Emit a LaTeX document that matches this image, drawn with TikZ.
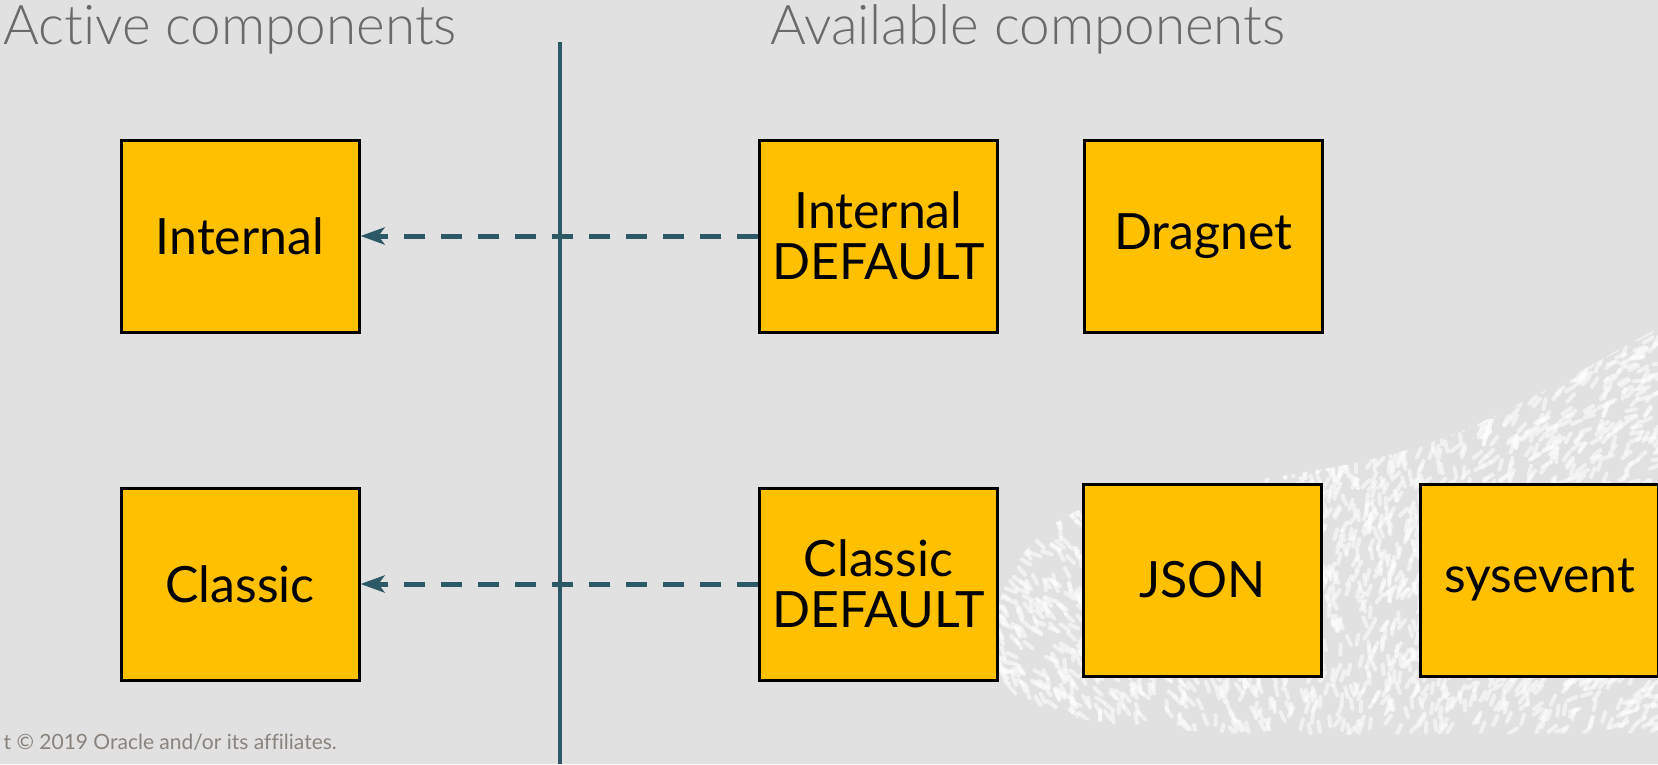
\documentclass[tikz,border=0pt]{standalone}
\usepackage{fontspec}
\setmainfont{Lato}[Ligatures=NoCommon]
\newfontfamily\lightfont{Lato Light}[Ligatures=NoCommon]
\usetikzlibrary{positioning,arrows.meta}

\definecolor{oryellow}{HTML}{FFC000}
\definecolor{bggray}{HTML}{E0E1E0}
\definecolor{linkteal}{HTML}{2D5967}
\definecolor{titlegray}{HTML}{6A6A6A}
\definecolor{footgray}{HTML}{8A837D}

\tikzset{
  compbox/.style={draw=black,line width=3pt,fill=oryellow,minimum width=238pt,
    minimum height=192pt,align=center,inner sep=0pt,
    font=\fontsize{50}{51}\selectfont},
  link/.style={linkteal,line width=5pt,dash pattern=on 21pt off 16pt,
    -{Stealth[length=24pt,width=17pt,inset=6pt]}},
  divider/.style={linkteal,line width=3.5pt},
  heading/.style={anchor=base west,inner sep=0pt,text=titlegray,
    font=\lightfont\fontsize{54.8}{60}\selectfont},
  speck/.style={white,opacity=.55,line width=4pt,line cap=round}
}

\begin{document}
\begin{tikzpicture}[x=1pt,y=-1pt]
\useasboundingbox (0,0) rectangle (1658,764);
\fill[bggray] (0,0) rectangle (1658,764);

% background texture
\begin{scope}
\clip (995,630) .. controls (1000,560) and (1050,510) .. (1120,497)
  .. controls (1250,480) and (1380,470) .. (1480,423)
  .. controls (1560,385) and (1620,348) .. (1658,328) -- (1658,733)
  -- (1300,735) .. controls (1150,732) and (1050,722) .. (1015,695)
  .. controls (998,680) and (993,660) .. (995,630) -- cycle;
\pgfmathsetseed{11}
\foreach \i in {1,...,2900}{
  \pgfmathsetmacro\px{990+670*rnd}
  \pgfmathsetmacro\py{325+410*rnd}
  \pgfmathsetmacro\pa{40+0.15*\px+70*rnd}
  \draw[speck] (\px,\py) -- ++(\pa:10);
}
\end{scope}

\node[heading] (activetitle) at (3,44) {Active components};
\node[heading] (availtitle) at (770,44) {Available components};

\coordinate (divtop) at (560,42);
\coordinate (divbot) at (560,764);
\draw[divider] (divtop) -- (divbot);

\node[compbox] (internal) at (240,236) {Internal};
\node[compbox] (intdefault) at (878.5,236) {Internal\\DEFAULT};
\node[compbox,right=84pt of intdefault] (dragnet) {Dragnet};

\node[compbox] (classic) at (240,584) {Classic};
\node[compbox] (clsdefault) at (878.5,584) {Classic\\DEFAULT};
\node[compbox] (json) at (1202.5,580) {JSON};
\node[compbox,right=96pt of json] (sysevent) {sysevent};

\draw[link] (intdefault) -- (internal);
\draw[link] (clsdefault) -- (classic);

\node[anchor=base east,inner sep=0pt,text=footgray,
  font=\fontsize{21}{24}\selectfont] (footer) at (337,749)
  {t © 2019 Oracle and/or its affiliates.};
\end{tikzpicture}
\end{document}
